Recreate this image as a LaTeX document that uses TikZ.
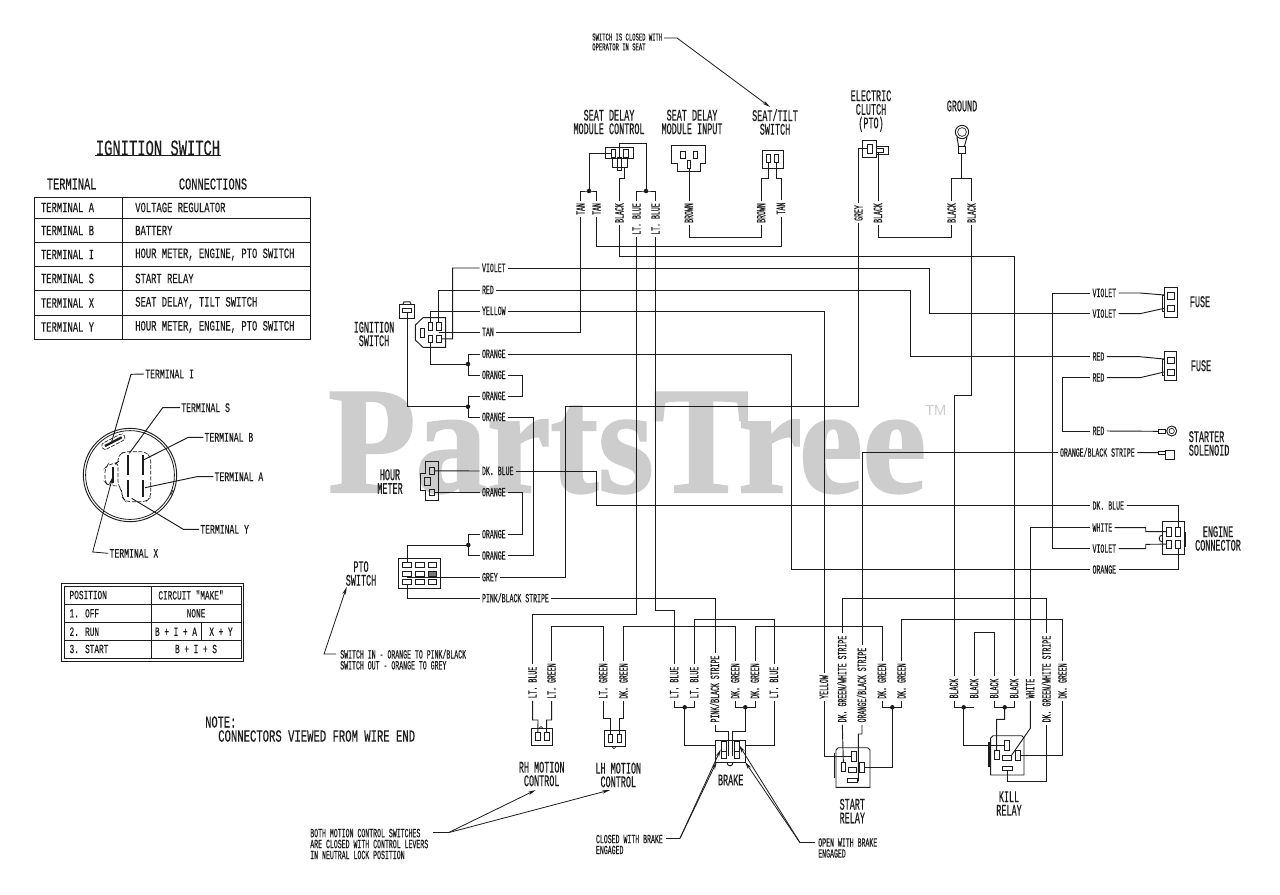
\documentclass[tikz,border=0pt]{standalone}
\usepackage{fontspec}
\usetikzlibrary{arrows.meta}
\setmainfont{Liberation Mono}
\newfontfamily\cadn[FakeStretch=0.52,FakeBold=0.3]{Liberation Mono}
\newfontfamily\cadw[FakeStretch=0.62,FakeBold=0.2]{Liberation Mono}
\newfontfamily\wmfont[FakeStretch=0.94,FakeBold=1.5]{Liberation Serif}
\newfontfamily\tmfont{Liberation Sans}
\definecolor{ink}{HTML}{1C1C1C}
\definecolor{wmark}{HTML}{CDCDCD}
\tikzset{
  wire/.style={draw=ink,line width=0.7pt,line join=miter},
  pinbox/.style={draw=ink,line width=0.6pt,inner sep=0pt,outer sep=0pt,rectangle},
  lab/.style={font=\cadn\fontsize{9.45pt}{10pt}\selectfont,text=ink,inner xsep=1.9pt,inner ysep=0pt,outer sep=0pt,text height=6pt,text depth=0pt},
  hlab/.style={lab,anchor=west},
  vlab/.style={lab,rotate=90},
  biglab/.style={font=\cadn\fontsize{12.2pt}{10.2pt}\selectfont,text=ink,align=center,inner sep=0pt},
  smallnote/.style={font=\cadn\fontsize{9.45pt}{8.2pt}\selectfont,text=ink,align=left,anchor=west,inner sep=0pt},
  tinynote/.style={font=\cadn\fontsize{8pt}{7.4pt}\selectfont,text=ink,align=left,anchor=west,inner sep=0pt},
  tabtxt/.style={font=\cadw\fontsize{10.7pt}{11pt}\selectfont,text=ink,anchor=west,inner sep=0pt},
  tabhead/.style={font=\cadw\fontsize{12.5pt}{13pt}\selectfont,text=ink,inner sep=0pt},
  termtxt/.style={font=\cadw\fontsize{9.8pt}{10pt}\selectfont,text=ink,anchor=west,inner sep=0pt,outer sep=1pt},
  postxt/.style={font=\cadw\fontsize{9.4pt}{10pt}\selectfont,text=ink,inner sep=0pt},
  jdot/.style={circle,fill=ink,inner sep=0pt,minimum size=3.4pt},
  arr/.style={wire,line width=0.6pt,-{Stealth[length=6pt,width=2.6pt]}},
  term/.style={draw=ink,line width=1.7pt},
}
\newcommand\pinb[5]{\node[pinbox,minimum width={(#4-#2)*0.75pt},minimum height={(#5-#3)*0.75pt}] (#1) at ({(#2+#4)/2},{(#3+#5)/2}) {};}
\begin{document}
\begin{tikzpicture}[x=0.75pt,y=-0.75pt]
\useasboundingbox (0,0) rectangle (1280,894);
\fill[white] (0,0) rectangle (1280,894);
% watermark
\node[anchor=base west,inner sep=0pt,text=wmark,font=\wmfont\bfseries\fontsize{114pt}{114pt}\selectfont] (wm) at (328,492) {PartsTree};
\node[anchor=west,inner sep=0pt,text=wmark,font=\tmfont\fontsize{11pt}{12pt}\selectfont] (wmtm) at (925,410) {TM};

% ---------- ignition table
\node[tabhead,font=\cadw\fontsize{16.7pt}{18pt}\selectfont] (ttl) at (158,148) {IGNITION SWITCH};
\draw[wire] (95,155) -- (221,155);
\node[tabhead] (thA) at (71.7,184) {TERMINAL};
\node[tabhead] (thB) at (213,184) {CONNECTIONS};
\draw[wire] (34.7,197.3) rectangle (310.7,339);
\foreach \yy in {218.3,242.3,266.3,290.3,315} \draw[wire] (34.7,\yy) -- (310.7,\yy);
\draw[wire] (122.3,197.3) -- (122.3,339);
\node[tabtxt] (c1) at (40.7,207.5) {TERMINAL  A};
\node[tabtxt] (c2) at (40.7,230.5) {TERMINAL  B};
\node[tabtxt] (c3) at (40.7,254.5) {TERMINAL  I};
\node[tabtxt] (c4) at (40.7,278.5) {TERMINAL  S};
\node[tabtxt] (c5) at (40.7,303) {TERMINAL X};
\node[tabtxt] (c6) at (40.7,327) {TERMINAL  Y};
\node[tabtxt] (d1) at (135,207.5) {VOLTAGE REGULATOR};
\node[tabtxt] (d2) at (135,230.5) {BATTERY};
\node[tabtxt] (d3) at (135,254.5) {HOUR METER, ENGINE, PTO SWITCH};
\node[tabtxt] (d4) at (135,278.5) {START RELAY};
\node[tabtxt] (d5) at (135,303) {SEAT DELAY, TILT SWITCH};
\node[tabtxt] (d6) at (135,327) {HOUR METER, ENGINE, PTO SWITCH};

% ---------- key switch face
\node[draw=ink,circle,line width=0.7pt,minimum size=70pt,inner sep=0pt] (kOut) at (130,475) {};
\node[draw=ink,circle,line width=0.6pt,minimum size=66.6pt,inner sep=0pt] (kIn) at (130,475) {};
\draw[wire,line width=0.5pt,dashed,dash pattern=on 3pt off 1pt,rounded corners=2.2pt] (103.9,450.5) -- (126,439) -- (122.8,432.9) -- (100.7,444.3) -- cycle;
\draw[term] (105,446) -- (121.7,437.3);
\draw[wire,line width=0.5pt,dash pattern=on 3pt off 1.2pt,rounded corners=3pt] (118,462) -- (118,456) -- (124,451.7) -- (145,451.7) -- (150.7,456.7) -- (150.7,497) -- (146,501.7) -- (126,501.7) -- (122,497) -- (122,491) -- (118,485) -- (118,462) -- (116,463.5) -- (108,464.5) -- (105,468) -- (105,482) -- (108,485.5) -- (118,486);
\draw[term] (127.7,455) -- (127.7,475);
\draw[term] (127.7,480) -- (127.7,497);
\draw[term] (142.7,455) -- (142.7,475);
\draw[term] (142.7,480) -- (142.7,497);
\draw[term] (113.3,467) -- (113.3,483);
\draw[wire,line width=0.5pt] (170.5,495) -- (173,490);
\node[termtxt] (tI) at (144,374) {TERMINAL I};
\node[termtxt] (tS) at (180,407.7) {TERMINAL S};
\node[termtxt] (tB) at (203.3,437.3) {TERMINAL B};
\node[termtxt] (tA) at (213.3,476.7) {TERMINAL A};
\node[termtxt] (tY) at (199,529.3) {TERMINAL Y};
\node[termtxt] (tX) at (108.3,553.3) {TERMINAL X};
\draw[wire] (tI.west) -- (131,374.3) -- (111.7,441.7);
\draw[wire] (tS.west) -- (162.7,407.7) -- (129.3,453.3);
\draw[wire] (tB.west) -- (188.3,437.3) -- (143.3,460);
\draw[wire] (tA.west) -- (196.7,476.7) -- (145,487.7);
\draw[wire] (tY.west) -- (183.3,529.3) -- (131.7,498.3);
\draw[arr] (tX.west) -- (92.7,552) -- (112.7,476.7);

% ---------- position table
\draw[wire] (61.7,583.3) rectangle (243.3,661);
\draw[wire] (64.3,586) rectangle (241,658.3);
\foreach \yy in {604,622.3,640.7} \draw[wire] (64.3,\yy) -- (241,\yy);
\draw[wire] (151,586) -- (151,658.3);
\draw[wire] (201.7,622.3) -- (201.7,640.7);
\node[postxt,anchor=west] (p1) at (69.3,595) {POSITION};
\node[postxt] (p2) at (191,595) {CIRCUIT "MAKE"};
\node[postxt,anchor=west] (p3) at (69.3,613.3) {1. OFF};
\node[postxt] (p4) at (196,613.3) {NONE};
\node[postxt,anchor=west] (p5) at (69.3,631.7) {2. RUN};
\node[postxt] (p6) at (176,631.7) {B + I + A};
\node[postxt] (p7) at (221,631.7) {X + Y};
\node[postxt,anchor=west] (p8) at (69.3,649) {3. START};
\node[postxt] (p9) at (196,649) {B + I + S};

% note
\node[tabtxt,font=\cadw\fontsize{12.5pt}{13pt}\selectfont] (nt1) at (205,722) {NOTE:};
\node[tabtxt,font=\cadw\fontsize{12.8pt}{13pt}\selectfont] (nt2) at (218,736) {CONNECTORS VIEWED FROM WIRE END};

% ---------- component titles
\node[biglab] (tSC) at (609,122) {SEAT DELAY\\MODULE CONTROL};
\node[biglab] (tSI) at (692,122) {SEAT DELAY\\MODULE INPUT};
\node[biglab] (tST) at (775,122) {SEAT/TILT\\SWITCH};
\node[biglab] (tEC) at (871,111) {ELECTRIC\\CLUTCH\\(PTO)};
\node[biglab] (tGR) at (962,106) {GROUND};
\node[biglab] (tIG) at (374,334) {IGNITION\\SWITCH};
\node[biglab] (tHM) at (390,481.5) {HOUR\\METER};
\node[biglab] (tPT) at (361,573.5) {PTO\\SWITCH};
\node[biglab] (tF1) at (1200,301.7) {FUSE};
\node[biglab] (tF2) at (1201,365.7) {FUSE};
\node[biglab,align=left,anchor=west] (tSS) at (1188.5,443.5) {STARTER\\SOLENOID};
\node[biglab] (tEG) at (1218,538.5) {ENGINE\\CONNECTOR};
\node[biglab] (tRH) at (541.7,774) {RH MOTION\\CONTROL};
\node[biglab] (tLH) at (618.3,775) {LH MOTION\\CONTROL};
\node[biglab] (tBR) at (730.7,780) {BRAKE};
\node[biglab] (tSR) at (852.3,811) {START\\RELAY};
\node[biglab] (tKR) at (1009,803.5) {KILL\\RELAY};

% ---------- notes with arrows
\node[tinynote] (nTop) at (592,42) {SWITCH IS CLOSED WITH\\OPERATOR IN SEAT};
\draw[arr] (664,38) -- (677,38) -- (770,107);
\node[smallnote] (nPto) at (340,659.5) {SWITCH IN - ORANGE TO PINK/BLACK\\SWITCH OUT - ORANGE TO GREY};
\draw[arr] (nPto.west |- 0,654) ++(-4,0) -- (324,654) -- (346.7,586.7);
\node[smallnote] (nMot) at (310,844) {BOTH MOTION CONTROL SWITCHES\\ARE CLOSED WITH CONTROL LEVERS\\IN NEUTRAL LOCK POSITION};
\coordinate (mFork) at (448.3,832.7);
\draw[wire] (433.3,832.7) -- (mFork);
\draw[arr] (mFork) -- (535.7,790);
\draw[arr] (mFork) -- (610,790);
\node[smallnote] (nCl) at (595.7,844.5) {CLOSED WITH BRAKE\\ENGAGED};
\coordinate (clFork) at (680,838.3);
\draw[wire] (666,838.3) -- (clFork);
\draw[arr] (clFork) -- (720.7,749.3);
\draw[arr] (clFork) -- (716.7,761.7);
\node[smallnote] (nOp) at (818,848) {OPEN WITH BRAKE\\ENGAGED};
\coordinate (opFork) at (800,842.7);
\draw[wire] (815,842.7) -- (opFork);
\draw[arr] (opFork) -- (739,745);
\draw[arr] (opFork) -- (745,761.7);

% ---------- connectors
% seat delay control
\draw[wire] (605.7,147) rectangle (633,158);
\draw[wire] (612,158) -- (612,167) -- (627,167) -- (627,158);
\pinb{scL}{611}{149}{615}{157}
\pinb{scR}{623}{149}{628}{157}
\pinb{scM}{617}{157}{621}{170}
\coordinate (scBot) at (624.3,167);
% seat delay input
\draw[wire] (671.7,145.7) -- (705.7,145.7) -- (705.7,163.3) -- (700.7,163.3) -- (700.7,171) -- (677.3,171) -- (677.3,163.3) -- (671.7,163.3) -- cycle;
\pinb{siL}{680.7}{151}{685}{158}
\pinb{siR}{693}{151}{697}{158}
\pinb{siM}{687.3}{160}{690.7}{168}
% seat tilt
\pinb{stB}{762}{150}{783}{168}
\pinb{stL}{766}{154}{770}{162}
\pinb{stR}{774.3}{154}{778.7}{162}
% clutch
\pinb{clB}{862}{140}{876}{157}
\pinb{clP}{867}{144}{872}{153}
\pinb{clT}{876}{146}{888}{154}
\pinb{clI}{876}{148}{883.3}{152}
% ground
\node[draw=ink,circle,line width=0.7pt,minimum size=10pt,inner sep=0pt] (grR) at (962,132) {};
\node[draw=ink,circle,line width=0.5pt,minimum size=6.6pt,inner sep=0pt] (grI) at (962,132) {};
\pinb{grC}{958}{146}{965}{153}
\draw[wire] (957,137) -- (958.5,146);
\draw[wire] (967,137) -- (964.5,146);
% ignition small
\pinb{ikB}{399.3}{304}{414}{318.7}
\pinb{ikP}{402.3}{308.3}{411.7}{312.3}
\draw[wire] (403,304) -- (404,301.8) -- (410,301.8) -- (411,304);
% ignition plug
\draw[wire] (445.7,317.7) -- (423,317.7) -- (415.3,325) -- (415.3,340) -- (423,347.3) -- (445.7,347.3) -- cycle;
\pinb{igTL}{428.3}{322}{432.7}{330}
\pinb{igTR}{436.7}{322}{441}{330}
\pinb{igBL}{428.3}{335}{432.7}{342.7}
\pinb{igBR}{436.7}{335}{441}{342.7}
\pinb{igL}{420}{328}{424}{337}
% hour meter
\draw[wire] (425.7,461.7) -- (438.3,461.7) -- (438.3,500.3) -- (425.7,500.3) -- (425.7,490) -- (420,490) -- (420,473.3) -- (425.7,473.3) -- cycle;
\pinb{hmT}{429.3}{467.3}{434.7}{474.3}
\pinb{hmM}{424.3}{477.7}{430}{485}
\pinb{hmB}{429.3}{489}{434.7}{495.7}
% PTO switch
\pinb{ptB}{398.3}{558.7}{440.7}{588.3}
\pinb{pt11}{402.7}{562.3}{411.7}{567.3}
\pinb{pt12}{415.3}{562.3}{424}{567.3}
\pinb{pt13}{428}{562.3}{436.7}{567.3}
\pinb{pt21}{402.7}{571}{411.7}{576}
\pinb{pt22}{415.3}{571}{424}{576}
\node[pinbox,fill=ink!60,minimum width=6.5pt,minimum height=3.75pt] (pt23) at (432.35,573.5) {};
\pinb{pt31}{402.7}{579}{411.7}{584}
\pinb{pt32}{415.3}{579}{424}{584}
\pinb{pt33}{428}{579}{436.7}{584}
\coordinate (ptGr) at (406.7,577.3);
% fuses
\pinb{f1B}{1164.3}{287.7}{1177.3}{317.3}
\pinb{f1T}{1167.7}{292.7}{1174.3}{299}
\pinb{f1L}{1167.7}{305}{1174.3}{311.7}
\draw[wire] (1164.3,295) -- (1162.3,295) -- (1162.3,311) -- (1164.3,311);
\pinb{f2B}{1164}{351.7}{1176.7}{380.3}
\pinb{f2T}{1167.7}{357}{1174.3}{363}
\pinb{f2L}{1167.7}{369}{1174.3}{375.7}
\draw[wire] (1164,359) -- (1162,359) -- (1162,375) -- (1164,375);
% solenoid
\pinb{soC}{1158.3}{429.3}{1165}{433.3}
\node[draw=ink,circle,line width=0.7pt,minimum size=7.5pt,inner sep=0pt] (soR) at (1171.7,431) {};
\node[draw=ink,circle,line width=0.5pt,minimum size=4pt,inner sep=0pt] (soI) at (1171.7,431) {};
\pinb{oCr}{1158.3}{451}{1165}{454.3}
\pinb{oBx}{1165}{450.3}{1174}{459.3}
% engine connector
\pinb{ecB}{1162.7}{521.7}{1184}{554.3}
\pinb{ecUL}{1166.7}{527.3}{1171.7}{536}
\pinb{ecUR}{1175.7}{527.3}{1180.7}{536}
\pinb{ecLL}{1166.7}{540}{1171.7}{548.3}
\pinb{ecLR}{1175.7}{540}{1180.7}{548.3}
\draw[wire] (1162.7,535) .. controls (1158,535) and (1158,542) .. (1162.7,542);
\draw[wire,line width=1pt] (1185.3,531.7) -- (1185.3,546.7);
% RH / LH
\pinb{rhB0}{531}{728.3}{552.3}{745.7}
\pinb{rhP1}{535.7}{732.7}{540}{740.7}
\pinb{rhP2}{544.3}{732.7}{549}{740.7}
\draw[wire,line width=0.5pt] (539,728.3) -- (541,726.5) -- (543,728.3);
\pinb{lhB0}{604.3}{730}{625.7}{746.7}
\pinb{lhP1}{608.3}{734.3}{612.7}{742.3}
\pinb{lhP2}{617.3}{734.3}{621.7}{742.3}
\draw[wire,line width=0.5pt] (612,746.7) -- (614,748.7) -- (616,746.7);
% brake
\pinb{bkB}{715}{740}{745}{762.3}
\pinb{bkA}{721}{741.7}{726.7}{751}
\pinb{bkC}{721}{751}{726.7}{758.3}
\pinb{bkD}{734}{741.7}{739}{751}
\pinb{bkE}{734}{751}{739}{758.3}
\draw[wire] (727,762.3) .. controls (727,767) and (733,767) .. (733,762.3);
\coordinate (bkLw) at (715,745.7);
\coordinate (bkRw) at (745,745.7);
% start relay
\draw[wire] (836,787.3) -- (870,787.3) -- (870,750) -- (867.7,747.7) -- (838.3,747.7) -- (836,750) -- cycle;
\draw[wire,line width=1.2pt] (834.5,753) -- (834.5,778);
\pinb{srT}{851.7}{751.7}{856.7}{761.7}
\pinb{srL}{841}{762.3}{845.7}{771.7}
\pinb{srC}{848.3}{767.3}{856.7}{772}
\pinb{srR}{859.3}{762.3}{864.3}{772.3}
\pinb{srB}{847.3}{778.3}{857.7}{782.7}
% kill relay
\draw[wire] (990.7,775) -- (1024,775) -- (1024,738) -- (1021.7,735.7) -- (993,735.7) -- (990.7,738) -- cycle;
\draw[wire,line width=1.2pt] (988.7,741.7) -- (988.7,766.7);
\pinb{krT}{1004.3}{740}{1009.3}{750}
\pinb{krL}{994.3}{750}{999}{759.3}
\pinb{krC}{1002.3}{755}{1011.7}{760}
\pinb{krR}{1015}{750}{1020}{760}
\pinb{krB}{1002.3}{766.7}{1012.3}{770.7}

% ---------- horizontal labels, left
\node[hlab] (hV) at (479.5,268) {VIOLET};
\node[hlab] (hR) at (479.5,290) {RED};
\node[hlab] (hY) at (479.5,311) {YELLOW};
\node[hlab] (hT) at (479.5,332) {TAN};
\node[hlab] (hO1) at (479.5,354) {ORANGE};
\node[hlab] (hO2) at (479.5,375) {ORANGE};
\node[hlab] (hO3) at (479.5,396) {ORANGE};
\node[hlab] (hO4) at (479.5,417) {ORANGE};
\node[hlab] (hB) at (479.5,471) {DK. BLUE};
\node[hlab] (hO5) at (479.5,492.3) {ORANGE};
\node[hlab] (hO6) at (479.5,534.3) {ORANGE};
\node[hlab] (hO7) at (479.5,555.7) {ORANGE};
\node[hlab] (hG) at (479.5,577.3) {GREY};
\node[hlab] (hP) at (479.5,598.3) {PINK/BLACK STRIPE};
% horizontal labels, right
\node[hlab] (rV1) at (1090,293) {VIOLET};
\node[hlab] (rV2) at (1090,313.7) {VIOLET};
\node[hlab] (rR1) at (1090,356.7) {RED};
\node[hlab] (rR2) at (1090,377.7) {RED};
\node[hlab] (rR3) at (1090,431) {RED};
\node[hlab] (rOB) at (1057.5,452.7) {ORANGE/BLACK STRIPE};
\node[hlab] (rB) at (1090,505.7) {DK. BLUE};
\node[hlab] (rW) at (1090,527.7) {WHITE};
\node[hlab] (rV3) at (1090,548.7) {VIOLET};
\node[hlab] (rO) at (1090,569.7) {ORANGE};
% vertical labels, top
\node[vlab] (tan1) at (580.7,209) {TAN};
\node[vlab] (tan2) at (596.7,209) {TAN};
\node[vlab] (blk1) at (619.5,213) {BLACK};
\node[vlab] (lb1) at (636.7,219) {LT. BLUE};
\node[vlab] (lb2) at (655.7,219) {LT. BLUE};
\node[vlab] (brn1) at (689,213) {BROWN};
\node[vlab] (brn2) at (761.3,213) {BROWN};
\node[vlab] (tan3) at (781,208.5) {TAN};
\node[vlab] (gry) at (858.7,213) {GREY};
\node[vlab] (blk2) at (878,213) {BLACK};
\node[vlab] (blk3) at (951.7,213) {BLACK};
\node[vlab] (blk4) at (971.7,213) {BLACK};
% vertical labels, bottom
\node[vlab] (rhB) at (532.7,682.5) {LT. BLUE};
\node[vlab] (rhG) at (551.7,681) {LT. GREEN};
\node[vlab] (lhG) at (603.3,681) {LT. GREEN};
\node[vlab] (lhD) at (623.7,681) {DK. GREEN};
\node[vlab] (bB1) at (674.3,682.5) {LT. BLUE};
\node[vlab] (bB2) at (694.3,682.5) {LT. BLUE};
\node[vlab] (pnk) at (715,689) {PINK/BLACK STRIPE};
\node[vlab] (bD1) at (735.3,681) {DK. GREEN};
\node[vlab] (bD2) at (755,681) {DK. GREEN};
\node[vlab] (bB3) at (774,682.5) {LT. BLUE};
\node[vlab] (yel) at (824,687) {YELLOW};
\node[vlab] (sDW) at (842.3,679) {DK. GREEN/WHITE STRIPE};
\node[vlab] (obl) at (862,685) {ORANGE/BLACK STRIPE};
\node[vlab] (sD1) at (882,681) {DK. GREEN};
\node[vlab] (sD2) at (901.7,681) {DK. GREEN};
\node[vlab] (kb1) at (954,688.5) {BLACK};
\node[vlab] (kb2) at (974.3,688.5) {BLACK};
\node[vlab] (kb3) at (994.3,688.5) {BLACK};
\node[vlab] (kb4) at (1014.3,688.5) {BLACK};
\node[vlab] (kW) at (1030.3,688.5) {WHITE};
\node[vlab] (kDW) at (1046.7,679) {DK. GREEN/WHITE STRIPE};
\node[vlab] (kD) at (1062.7,681) {DK. GREEN};
% junctions
\node[jdot] (dTan) at (589,191) {};
\node[jdot] (dLB) at (646,191) {};
\node[jdot] (dO1) at (468,364) {};
\node[jdot] (dO2) at (468,406.7) {};
\node[jdot] (dO3) at (468.3,545) {};
\node[jdot] (dB1) at (684.7,707.3) {};
\node[jdot] (dB2) at (745.3,707.3) {};
\node[jdot] (dS) at (892.3,707.3) {};
\node[jdot] (dK1) at (963.7,707.3) {};
\node[jdot] (dK2) at (1004.7,707.3) {};

% ---------- wires
\begin{scope}[every path/.style={wire}]
% seat delay control
\draw (scL.west) -| (dTan.center);
\draw (tan1.east) |- (dTan.center) -| (tan2.east);
\draw (tan1.west) |- (hT.east);
\draw (hT.west) -- (igTR.south |- hT.west) -- (445.7,332);
\draw (tan2.west) -- (596.7,246) -- (781,246) -- (tan3.west);
\draw (tan3.east) -- (781,178) -- (776.5,178) -- (stR.south);
\draw (scBot) -- (624.3,178) -- (619.5,178) -- (blk1.east);
\draw (blk1.west) -- (619.5,256) -- (1014.3,256) -- (kb4.east);
\draw (scM.north) -- (619,143.3) -- (646,143.3) -- (dLB.center);
\draw (lb1.east) |- (dLB.center) -| (lb2.east);
\draw (lb1.west) -- (636.7,614.3) -- (532.7,614.3) -- (rhB.east);
\draw (lb2.west) -- (655.7,610.7) -- (674.3,610.7) -- (bB1.east);
% seat delay input, tilt
\draw (siM.south) -- (brn1.east);
\draw (brn1.west) -- (689,237) -- (761.3,237) -- (brn2.west);
\draw (brn2.east) -- (761.3,178) -- (768,178) -- (stL.south);
% clutch, ground
\draw (clP.west) -| (gry.east);
\draw (gry.west) -- (858.7,406.7) -- (565.3,406.7) -- (565.3,577.3) -- (hG.east);
\draw (hG.west) -- (ptGr);
\draw (blk2.east) -- (clI.south -| blk2.east);
\draw (blk2.west) -- (878,237) -- (951.7,237) -- (blk3.west);
\draw (blk3.east) -- (951.7,178) -- (971.7,178) -- (blk4.east);
\draw (grC.south) -- (961.5,178);
\draw (blk4.west) -- (971.7,395) -- (954,395) -- (kb1.east);
% ignition plug
\draw (igTL.north) |- (hY.west);
\draw (igTR.north) |- (hR.west);
\draw (igBR.east) -- (452.7,338.8) |- (hV.west);
\draw (igBL.south) |- (dO1.center);
\draw (hO1.west) -| (dO1.center);
\draw (hO2.west) -| (dO1.center);
\draw (hO2.east) -- (522.7,375) -- (522.7,396) -- (hO3.east);
\draw (hO3.west) -| (dO2.center);
\draw (hO4.west) -| (dO2.center);
\draw (ikP.south) |- (dO2.center);
\draw (hO4.east) -- (533.3,417) -- (533.3,555.7) -- (hO7.east);
% hour meter, PTO
\draw (hmT.east) -- (hB.west);
\draw (hmB.east |- hO5.west) -- (hO5.west);
\draw (hO5.east) -- (522.7,492.3) -- (522.7,534.3) -- (hO6.east);
\draw (hO6.west) -| (dO3.center);
\draw (hO7.west) -| (dO3.center);
\draw (dO3.center) -| (pt11.north);
\draw (pt31.south) |- (hP.west);
\draw (hP.east) -| (pnk.east);
% long runs
\draw (hV.east) -- (929,268) -- (929,313.7) -- (rV2.west);
\draw (hR.east) -- (910,290) -- (910,356.7) -- (rR1.west);
\draw (hY.east) -| (yel.east);
\draw (hO1.east) -- (791.7,354) -- (791.7,569.7) -- (rO.west);
\draw (hB.east) -- (596,471) -- (596,505.7) -- (rB.west);
% right side
\draw (rV1.east) -- (1140,293) -- (1164.3,295);
\draw (rV2.east) -- (1140,313.7) -- (1164.3,308.3);
\draw (rR1.east) -- (1140,356.7) -- (1164,359);
\draw (rR2.east) -- (1140,377.7) -- (1164,372);
\draw (rV1.west) -- (1052.3,293) -- (1052.3,548.7) -- (rV3.west);
\draw (rR2.west) -- (1062.3,377.7) -- (1062.3,431) -- (rR3.west);
\draw (rR3.east) -- (soC.west);
\draw (rOB.west) -| (obl.east);
\draw (rOB.east) -- (oCr.west);
\draw (rB.east) -| (ecUR.north);
\draw (rO.east) -| (ecLR.south);
\draw (rW.east) -- (1145.7,527.7) -- (1145.7,531.7) -- (ecUL.west);
\draw (rV3.east) -- (1145.7,548.7) -- (1145.7,544.3) -- (ecLL.west);
\draw (rW.west) -| (kW.east);
% motion controls
\draw (rhG.east) -- (551.7,626.7) -- (603.3,626.7) -- (lhG.east);
\draw (lhD.east) -- (623.7,626.7) -- (735.3,626.7) -- (bD1.east);
\draw (bB2.east) -- (694.3,619.3) -- (774,619.3) -- (bB3.east);
\draw (bD2.east) -- (755,626.5) -- (882,626.5) -- (sD1.east);
\draw (rhB.west) -- (532.7,720) -- (538,720) -- (rhP1.north);
\draw (rhG.west) -- (551.7,720) -- (546.6,720) -- (rhP2.north);
\draw (lhG.west) -- (603.3,718.3) -- (610.5,718.3) -- (lhP1.north);
\draw (lhD.west) -- (623.7,718.3) -- (619.5,718.3) -- (lhP2.north);
% brake
\draw (bB1.west) |- (dB1.center) -| (bB2.west);
\draw (dB1.center) |- (bkLw);
\draw (bD1.west) |- (dB2.center) -| (bD2.west);
\draw (dB2.center) -- (745.3,731) -- (732.3,731) -- (732.3,756);
\draw (pnk.west) -- (715,731) -- (728.3,731) -- (728.3,756);
\draw (bB3.west) |- (bkRw);
% start relay
\draw (sDW.east) -- (842.3,598.3) -- (1046.7,598.3) -- (kDW.east);
\draw (sD2.east) -- (901.7,619.3) -- (1062.7,619.3) -- (kD.east);
\draw (yel.west) |- (srT.west);
\draw (sDW.west) -- (srL.north);
\draw (obl.west) -- (862,734) -- (858.3,734) -- (858.3,780.7) -- (srB.east);
\draw (sD1.west) |- (dS.center) -| (sD2.west);
\draw (dS.center) |- (srR.east);
% kill relay
\draw (kb2.east) -- (974.3,632.3) -- (994.3,632.3) -- (kb3.east);
\draw (kb1.west) |- (dK1.center) -- (974.3,707.3);
\draw (dK1.center) |- (krT.west);
\draw (kb3.west) |- (dK2.center) -| (kb4.west);
\draw (dK2.center) -- (1004.7,719.3) -- (996.7,719.3) -- (krL.north);
\draw (kW.west) -- (1030.3,728.3) -- (krC.north east);
\draw (kDW.west) -- (1046.7,781.7) -- (1007.3,781.7) -- (krB.south);
\draw (kD.west) |- (krR.east);
\end{scope}
\end{tikzpicture}
\end{document}
